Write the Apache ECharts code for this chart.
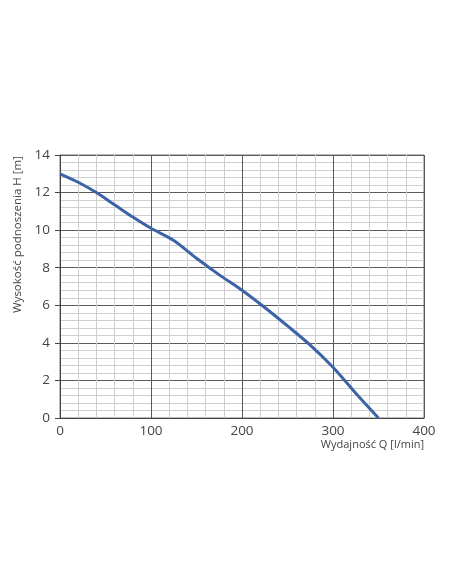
<!DOCTYPE html>
<html>
<head>
<meta charset="utf-8">
<script src="https://cdn.jsdelivr.net/npm/echarts@6/dist/echarts.min.js"></script>
<style>
  html, body { margin: 0; padding: 0; background: #fff; }
  #chart { width: 452px; height: 584px; }
</style>
</head>
<body>
<div id="chart"></div>
<script>
// pump curve: flow Q [l/min] vs head H [m]
const flow = [0, 20, 40, 60, 80, 100, 125, 150, 175, 200, 225, 250, 275, 300, 325, 350];
const head = [13, 12.55, 12, 11.35, 10.7, 10.1, 9.45, 8.5, 7.62, 6.8, 5.88, 4.9, 3.88, 2.7, 1.32, 0];

const myChart = echarts.init(document.getElementById('chart'));

const font = '"Open Sans", "DejaVu Sans", sans-serif';
const majorLine = { show: true, lineStyle: { color: '#5a5a5a', width: 1 } };
const minorLine = { show: true, lineStyle: { color: '#cfcfcf', width: 1 } };

const option = {
  animation: false,
  grid: { left: 60, right: 28, top: 155, bottom: 166, show: true, borderColor: '#777', borderWidth: 1 },
  xAxis: {
    type: 'value',
    min: 0,
    max: 400,
    interval: 100,
    name: 'Wydajność Q [l/min]',
    nameLocation: 'end',
    nameGap: 0,
    nameTextStyle: { align: 'right', verticalAlign: 'top', padding: [21, 0, 0, 0], fontSize: 11, color: '#444', fontFamily: font },
    axisLine: { lineStyle: { color: '#444' } },
    axisTick: { show: false },
    axisLabel: { fontSize: 13.5, color: '#444', margin: 6, fontFamily: font },
    splitLine: majorLine,
    minorTick: { show: false, splitNumber: 5 },
    minorSplitLine: minorLine
  },
  yAxis: {
    type: 'value',
    min: 0,
    max: 14,
    interval: 2,
    name: 'Wysokość podnoszenia H [m]',
    nameLocation: 'middle',
    nameGap: 36,
    nameTextStyle: { fontSize: 11.5, color: '#444', fontFamily: font, padding: [0, 0, 0, 104] },
    axisLine: { show: true, lineStyle: { color: '#444' } },
    axisTick: { show: true, length: 5, inside: false, lineStyle: { color: '#444' } },
    axisLabel: { fontSize: 13.5, color: '#444', margin: 10, fontFamily: font },
    splitLine: majorLine,
    minorTick: { show: false, splitNumber: 5 },
    minorSplitLine: minorLine
  },
  series: [
    {
      type: 'line',
      data: flow.map((q, i) => [q, head[i]]),
      smooth: 0.3,
      symbol: 'none',
      lineStyle: { color: '#3c63a6', width: 3 },
      z: 5
    }
  ]
};

myChart.setOption(option);
</script>
</body>
</html>
